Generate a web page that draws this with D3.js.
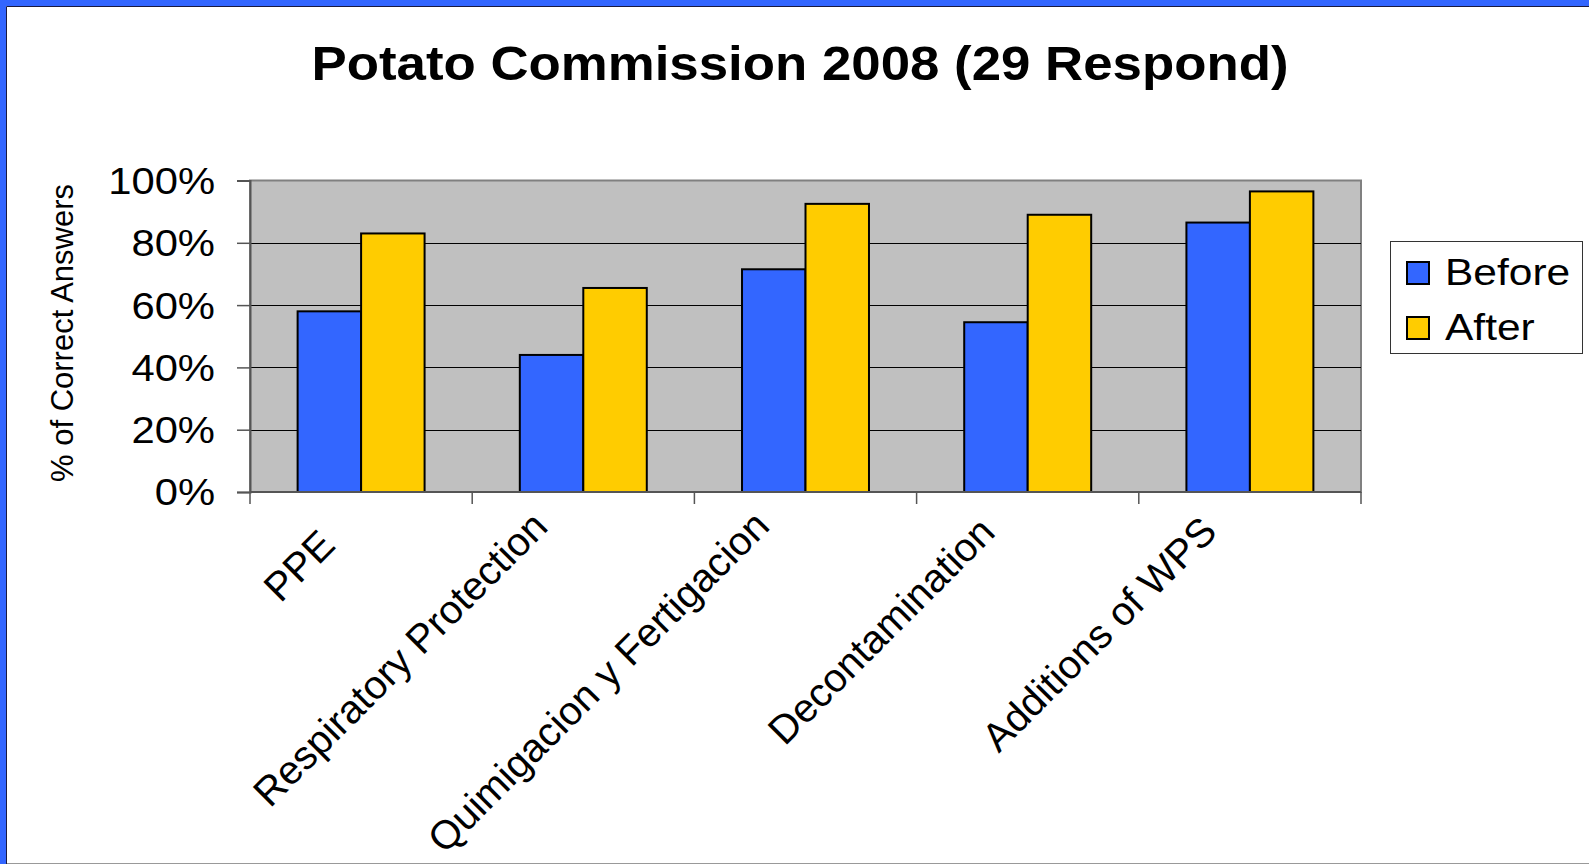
<!DOCTYPE html>
<html>
<head>
<meta charset="utf-8">
<script src="https://cdn.jsdelivr.net/npm/d3@7"></script>
<style>
  html, body { margin: 0; padding: 0; background: #fff; }
  svg { display: block; }
  text { font-family: "Liberation Sans", Arial, sans-serif; fill: #000; }
</style>
</head>
<body>
<script>
const categories = ["PPE", "Respiratory Protection", "Quimigacion y Fertigacion", "Decontamination", "Additions of WPS"];
const seriesNames = ["Before", "After"];
const beforeValues = [58, 44, 71.5, 54.5, 86.5];
const afterValues = [83, 65.5, 92.5, 89, 96.5];
const yTicks = [0, 20, 40, 60, 80, 100];
const titleText = "Potato Commission 2008 (29 Respond)";
const yAxisTitle = "% of Correct Answers";
const colors = ["#3366FF", "#FFCC00"];

const W = 1589, H = 864;
const plot = { left: 250, right: 1361, top: 180.5, bottom: 492 };

const svg = d3.select("body").append("svg").attr("width", W).attr("height", H);

function stretch(sel, f) {
  sel.each(function () {
    const L = this.getComputedTextLength();
    d3.select(this).attr("textLength", L * f).attr("lengthAdjust", "spacingAndGlyphs");
  });
}

// page frame
svg.append("rect").attr("x", 0).attr("y", 0).attr("width", W).attr("height", 6).attr("fill", "#3366FF");
svg.append("rect").attr("x", 0).attr("y", 0).attr("width", 6).attr("height", H).attr("fill", "#3366FF");
svg.append("line").attr("x1", 6.5).attr("x2", W).attr("y1", 6.5).attr("y2", 6.5).attr("stroke", "#1a1a40").attr("stroke-width", 1);
svg.append("line").attr("x1", 6.5).attr("x2", 6.5).attr("y1", 6.5).attr("y2", H).attr("stroke", "#1a1a40").attr("stroke-width", 1);
svg.append("line").attr("x1", 7).attr("x2", W).attr("y1", H - 0.5).attr("y2", H - 0.5).attr("stroke", "#999").attr("stroke-width", 1);

const x0 = d3.scaleBand().domain(categories).range([plot.left, plot.right]).paddingInner(0).paddingOuter(0);
const x1 = d3.scaleBand().domain(seriesNames).range([0, x0.bandwidth()]).paddingInner(0).paddingOuter(0.75);
const y = d3.scaleLinear().domain([0, 100]).range([plot.bottom, plot.top]);

// plot area
svg.append("rect").attr("x", plot.left).attr("y", plot.top).attr("width", plot.right - plot.left).attr("height", plot.bottom - plot.top)
  .attr("fill", "#C0C0C0").attr("stroke", "#808080").attr("stroke-width", 2);

// gridlines
svg.append("g").selectAll("line").data(yTicks.filter(d => d > 0 && d < 100)).join("line")
  .attr("x1", plot.left).attr("x2", plot.right)
  .attr("y1", d => Math.round(y(d)) + 0.5).attr("y2", d => Math.round(y(d)) + 0.5)
  .attr("stroke", "#000").attr("stroke-width", 1);

// bars
const data = categories.map((c, i) => ({ cat: c, vals: [beforeValues[i], afterValues[i]] }));
const groups = svg.append("g").selectAll("g").data(data).join("g")
  .attr("transform", d => `translate(${x0(d.cat)},0)`);
groups.selectAll("rect").data(d => d.vals.map((v, j) => ({ name: seriesNames[j], v, j }))).join("rect")
  .attr("x", d => x1(d.name)).attr("width", x1.bandwidth())
  .attr("y", d => y(d.v)).attr("height", d => y(0) - y(d.v))
  .attr("fill", d => colors[d.j]).attr("stroke", "#000").attr("stroke-width", 2);

// y axis
const yAxis = d3.axisLeft(y).tickValues(yTicks).tickFormat(d => d + "%").tickSize(13).tickPadding(22);
const gy = svg.append("g").attr("transform", `translate(${plot.left},0)`).call(yAxis);
gy.select(".domain").attr("stroke", "#555").attr("stroke-width", 2);
gy.selectAll(".tick line").attr("stroke", "#555").attr("stroke-width", 1.5);
gy.selectAll(".tick text").attr("font-size", 36).attr("font-family", '"Liberation Sans", Arial, sans-serif').attr("fill", "#000").attr("dy", "0.36em");
stretch(gy.selectAll(".tick text"), 1.16);

// x axis: ticks at category boundaries
const boundaries = categories.map(c => x0(c)).concat([plot.right]);
const gx = svg.append("g");
gx.append("line").attr("x1", plot.left).attr("x2", plot.right).attr("y1", plot.bottom).attr("y2", plot.bottom).attr("stroke", "#555").attr("stroke-width", 2);
gx.selectAll("line.tk").data(boundaries).join("line").attr("class", "tk")
  .attr("x1", d => d).attr("x2", d => d).attr("y1", plot.bottom).attr("y2", plot.bottom + 12)
  .attr("stroke", "#555").attr("stroke-width", 1.5);

const xl = gx.selectAll("text").data(categories).join("text")
  .attr("text-anchor", "end")
  .attr("font-size", 40).text(d => d);
xl.each(function (d) {
  const L = this.getComputedTextLength();
  const k = Math.max(0, 410 - L);
  const tx = x0(d) + x0.bandwidth() / 2 - 34 + 0.03 * k;
  const ty = plot.bottom + 36 + 0.058 * k;
  d3.select(this).attr("transform", `translate(${tx},${ty}) rotate(-45)`);
});

// y axis title
svg.append("text").attr("transform", `translate(73,333) rotate(-90)`).attr("text-anchor", "middle")
  .attr("font-size", 31).text(yAxisTitle);

// title
const title = svg.append("text").attr("x", 800).attr("y", 80).attr("text-anchor", "middle").attr("font-size", 48).attr("font-weight", "bold").text(titleText);
stretch(title, 1.1);

// legend
const lg = svg.append("g").attr("transform", "translate(1390,241)");
lg.append("rect").attr("x", 0.5).attr("y", 0.5).attr("width", 192).attr("height", 112).attr("fill", "#fff").attr("stroke", "#333").attr("stroke-width", 1);
const items = lg.selectAll("g").data(seriesNames).join("g").attr("transform", (d, i) => `translate(17,${21 + i * 55})`);
items.append("rect").attr("width", 22).attr("height", 22).attr("fill", (d, i) => colors[i]).attr("stroke", "#000").attr("stroke-width", 2);
const ltxt = items.append("text").attr("x", 38).attr("y", 10).attr("dy", "0.36em").attr("font-size", 36).text(d => d);
stretch(ltxt, 1.18);
</script>
</body>
</html>
